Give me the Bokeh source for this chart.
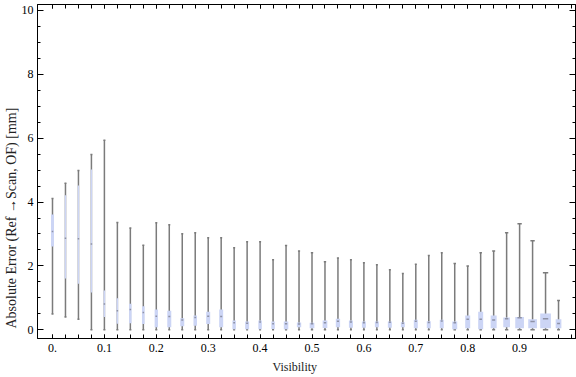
from bokeh.plotting import figure
from bokeh.models import Range1d, FixedTicker, LinearAxis, ColumnDataSource, Title
from bokeh.embed import file_html
from bokeh.resources import INLINE

# ---- data ----
visibility = [0.0, 0.025, 0.05, 0.075, 0.1, 0.125, 0.15, 0.175, 0.2, 0.225,
              0.25, 0.275, 0.3, 0.325, 0.35, 0.375, 0.4, 0.425, 0.45, 0.475,
              0.5, 0.525, 0.55, 0.575, 0.6, 0.625, 0.65, 0.675, 0.7, 0.725,
              0.75, 0.775, 0.8, 0.825, 0.85, 0.875, 0.9, 0.925, 0.95, 0.975]
whisker_low = [0.50, 0.40, 0.33, 0.0, 0.0, 0.0, 0.0, 0.0, 0.0, 0.0,
               0.0, 0.0, 0.0, 0.0, 0.0, 0.0, 0.0, 0.0, 0.0, 0.0,
               0.0, 0.0, 0.0, 0.0, 0.0, 0.0, 0.0, 0.0, 0.0, 0.0,
               0.0, 0.0, 0.0, 0.0, 0.0, 0.0, 0.0, 0.0, 0.0, 0.0]
q1 = [2.61, 1.61, 1.44, 1.17, 0.40, 0.19, 0.21, 0.18, 0.08, 0.08,
      0.11, 0.13, 0.18, 0.08, 0.02, 0.02, 0.02, 0.03, 0.02, 0.08,
      0.05, 0.06, 0.08, 0.07, 0.07, 0.08, 0.07, 0.08, 0.05, 0.05,
      0.05, 0.02, 0.05, 0.02, 0.05, 0.08, 0.05, 0.05, 0.05, 0.05]
median = [3.08, 2.87, 2.85, 2.69, 0.81, 0.60, 0.64, 0.54, 0.43, 0.42,
          0.31, 0.39, 0.43, 0.42, 0.22, 0.21, 0.25, 0.19, 0.19, 0.18,
          0.19, 0.22, 0.27, 0.25, 0.22, 0.23, 0.24, 0.21, 0.27, 0.23,
          0.28, 0.22, 0.33, 0.33, 0.31, 0.35, 0.38, 0.26, 0.35, 0.20]
q3 = [3.61, 4.21, 4.52, 5.02, 1.23, 0.99, 0.82, 0.74, 0.64, 0.60,
      0.36, 0.45, 0.57, 0.64, 0.29, 0.26, 0.29, 0.26, 0.26, 0.23,
      0.22, 0.29, 0.35, 0.29, 0.26, 0.26, 0.26, 0.24, 0.32, 0.27,
      0.32, 0.26, 0.45, 0.57, 0.45, 0.39, 0.40, 0.33, 0.51, 0.33]
whisker_high = [4.11, 4.59, 4.99, 5.49, 5.93, 3.36, 3.19, 2.65, 3.35, 3.29,
                3.01, 3.04, 2.88, 2.88, 2.57, 2.76, 2.76, 2.19, 2.64, 2.47,
                2.41, 2.13, 2.25, 2.19, 2.10, 2.04, 1.88, 1.76, 2.05, 2.33,
                2.41, 2.08, 2.00, 2.41, 2.47, 3.04, 3.32, 2.79, 1.79, 0.92]

x_tick_values = [0.0, 0.1, 0.2, 0.3, 0.4, 0.5, 0.6, 0.7, 0.8, 0.9]
x_tick_labels = ["0.", "0.1", "0.2", "0.3", "0.4", "0.5", "0.6", "0.7", "0.8", "0.9"]
y_tick_values = [0, 2, 4, 6, 8, 10]
x_title = "Visibility"
y_title = "Absolute Error (Ref \u2192Scan, OF) [mm]"

# ---- style: box widths in screen pixels ----
box_px = [3, 1.3, 1.3, 1.3, 1.5, 1.5, 2.5, 2.7, 3.3, 4,
          4, 3.5, 4, 4, 3.5, 4, 3.5, 3.5, 4.5, 4.3,
          4.7, 4.7, 4.3, 4, 4, 4, 4, 4, 4, 4,
          4, 5, 5, 5, 6, 6.7, 8.7, 8.7, 10.7, 5.7]

X0, X1 = -0.0289, 1.0077
Y0, Y1 = -0.27, 10.18
PX = 0.1 / 51.9  # data units per screen pixel along x

bw = [w * PX for w in box_px]
cw = [max(2.0, 0.5 * w) * PX for w in box_px]
mw = [max(1.5, 0.5 * w) * PX for w in box_px]

src = ColumnDataSource(dict(
    x=visibility, lo=whisker_low, q1=q1, med=median, q3=q3, hi=whisker_high,
    bw=bw,
    cl=[x - c / 2 for x, c in zip(visibility, cw)],
    cr=[x + c / 2 for x, c in zip(visibility, cw)],
    ml=[x - m / 2 for x, m in zip(visibility, mw)],
    mr=[x + m / 2 for x, m in zip(visibility, mw)],
))

p = figure(width=576, height=377, output_backend="svg", toolbar_location=None,
           x_range=Range1d(X0, X1), y_range=Range1d(Y0, Y1),
           min_border_left=37, min_border_right=1, min_border_top=4,
           min_border_bottom=39, x_axis_location=None, y_axis_location=None)
p.grid.visible = False
p.outline_line_color = "black"
p.outline_line_width = 1

WHISK = "#7b7b7b"
BOX = "#ccd5f5"
MED = "#8e92a6"

p.segment(x0="x", y0="lo", x1="x", y1="hi", source=src, line_color=WHISK, line_width=1.5)
p.segment(x0="cl", y0="hi", x1="cr", y1="hi", source=src, line_color=WHISK, line_width=1.5)
p.segment(x0="cl", y0="lo", x1="cr", y1="lo", source=src, line_color=WHISK, line_width=1.5)
p.vbar(x="x", width="bw", top="q3", bottom="q1", source=src, fill_color=BOX, line_color=None)
p.segment(x0="ml", y0="med", x1="mr", y1="med", source=src, line_color=MED, line_width=1.5)

FONT = "Liberation Serif"
minor_x = [i * 0.025 for i in range(41)]
minor_y = [i * 0.5 for i in range(21)]

def style(ax, labels=True):
    ax.axis_line_color = "black"
    ax.major_tick_line_color = "black"
    ax.minor_tick_line_color = "black"
    ax.major_tick_out = 0
    ax.minor_tick_out = 0
    ax.major_label_text_font = FONT
    ax.major_label_text_color = "black"
    if not labels:
        ax.major_label_text_font_size = "0px"
        ax.major_label_standoff = 0

xb = LinearAxis(ticker=FixedTicker(ticks=x_tick_values, minor_ticks=minor_x))
style(xb)
xb.major_tick_in = 4
xb.minor_tick_in = 4
xb.major_label_overrides = {v: s for v, s in zip(x_tick_values, x_tick_labels)}
xb.major_label_text_font_size = "12px"
xb.major_label_standoff = 5
p.add_layout(xb, "below")

xt = LinearAxis(ticker=FixedTicker(ticks=x_tick_values, minor_ticks=minor_x))
style(xt, labels=False)
xt.major_tick_in = 4
xt.minor_tick_in = 4
xt.major_label_overrides = {v: "" for v in x_tick_values}
p.add_layout(xt, "above")

yl = LinearAxis(ticker=FixedTicker(ticks=y_tick_values, minor_ticks=minor_y))
style(yl)
yl.major_tick_in = 6
yl.minor_tick_in = 3
yl.major_label_text_font_size = "12px"
yl.major_label_standoff = 4
p.add_layout(yl, "left")

yr = LinearAxis(ticker=FixedTicker(ticks=y_tick_values, minor_ticks=minor_y))
style(yr, labels=False)
yr.major_tick_in = 6
yr.minor_tick_in = 3
yr.major_label_overrides = {v: "" for v in y_tick_values}
p.add_layout(yr, "right")

tx = Title(text=x_title, align="left", offset=235, standoff=6,
           text_font=FONT, text_font_size="12px", text_font_style="normal",
           text_color="#222222")
p.add_layout(tx, "below")

ty = Title(text=y_title, align="left", offset=10, standoff=0,
           text_font=FONT, text_font_size="14px", text_font_style="normal",
           text_color="#222222")
p.add_layout(ty, "left")

open("out.html", "w").write(file_html(p, INLINE))
